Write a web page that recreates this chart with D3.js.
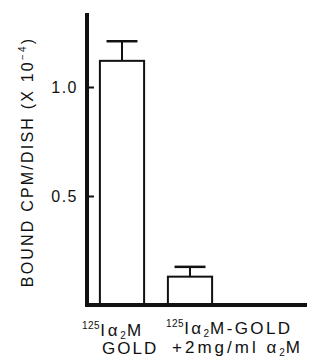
<!DOCTYPE html>
<html>
<head>
<meta charset="utf-8">
<script src="https://cdn.jsdelivr.net/npm/d3@7"></script>
<style>
  body { margin: 0; background: #fff; }
  text { font-family: "Liberation Sans", Arial, sans-serif; fill: #111; }
</style>
</head>
<body>
<div id="chart"></div>
<script>
// bound 125I-a2M gold, cpm per dish (x 10^-4)
const categories = ["gold", "gold+a2M"];
const values = [1.12, 0.13];
const errors = [0.09, 0.045];
const tickValues = [0.5, 1.0];

const width = 321, height = 358;
const x0 = 87, xEnd = 307, y0 = 305;

const svg = d3.select("#chart").append("svg")
  .attr("width", width)
  .attr("height", height);

const x = d3.scaleBand()
  .domain(categories)
  .range([88, 224])
  .paddingInner(0.35)
  .paddingOuter(0.175);

const y = d3.scaleLinear()
  .domain([0, 1.0])
  .range([y0, 87]);

// bars
svg.selectAll("rect.bar")
  .data(categories)
  .enter().append("rect")
  .attr("class", "bar")
  .attr("x", d => x(d))
  .attr("y", (d, i) => y(values[i]))
  .attr("width", x.bandwidth())
  .attr("height", (d, i) => y0 - y(values[i]))
  .attr("fill", "none")
  .attr("stroke", "#111")
  .attr("stroke-width", 2);

// error bars
const err = svg.selectAll("g.err")
  .data(categories)
  .enter().append("g")
  .attr("class", "err");

err.append("line")
  .attr("x1", d => x(d) + x.bandwidth() / 2)
  .attr("x2", d => x(d) + x.bandwidth() / 2)
  .attr("y1", (d, i) => y(values[i]))
  .attr("y2", (d, i) => y(values[i] + errors[i]))
  .attr("stroke", "#111")
  .attr("stroke-width", 2);

err.append("line")
  .attr("x1", d => x(d) + x.bandwidth() * 0.15)
  .attr("x2", d => x(d) + x.bandwidth() * 0.85)
  .attr("y1", (d, i) => y(values[i] + errors[i]))
  .attr("y2", (d, i) => y(values[i] + errors[i]))
  .attr("stroke", "#111")
  .attr("stroke-width", 2.5);

// y axis
const yAxis = d3.axisLeft(y)
  .tickValues(tickValues)
  .tickFormat(d3.format(".1f"))
  .tickSize(-7);

const gy = svg.append("g")
  .attr("transform", `translate(${x0},0)`)
  .call(yAxis);
gy.select(".domain").remove();
gy.selectAll(".tick line").attr("stroke", "#111").attr("stroke-width", 2);
gy.selectAll(".tick text")
  .attr("font-size", 16)
  .attr("letter-spacing", 1.5)
  .attr("x", -9)
  .attr("fill", "#111")
  .style("font-family", "'Liberation Sans', Arial, sans-serif");

svg.append("line")
  .attr("x1", x0).attr("x2", x0)
  .attr("y1", 13).attr("y2", y0 + 2)
  .attr("stroke", "#111")
  .attr("stroke-width", 4);

svg.append("line")
  .attr("x1", x0 - 2).attr("x2", xEnd)
  .attr("y1", y0).attr("y2", y0)
  .attr("stroke", "#111")
  .attr("stroke-width", 4);

// y label
const yl = svg.append("text")
  .attr("transform", "translate(33,162) rotate(-90)")
  .attr("text-anchor", "middle")
  .attr("font-size", 16)
  .attr("letter-spacing", 2.2);
yl.append("tspan").text("BOUND  CPM/DISH  (X 10");
yl.append("tspan").attr("dy", -7).attr("font-size", 10).text("−4");
yl.append("tspan").attr("dy", 7).text(")");

// category labels
function label(xs, ys, parts, spacing) {
  const t = svg.append("text")
    .attr("x", xs)
    .attr("y", ys)
    .attr("font-size", 17)
    .attr("letter-spacing", spacing);
  parts.forEach(p => {
    const s = t.append("tspan").text(p[0]);
    if (p[1] === "sup") s.attr("font-size", 10).attr("dy", -7).attr("letter-spacing", 0.5);
    if (p[1] === "sub") s.attr("font-size", 10).attr("dy", 3).attr("letter-spacing", 1);
    if (p[1] === "back") s.attr("dy", p[2]);
  });
}

label(82, 336, [["125", "sup"], ["Iα", "back", 7], ["2", "sub"], ["M", "back", -3]], 2.8);
label(102, 354, [["GOLD"]], 2);
label(166, 334, [["125", "sup"], ["Iα", "back", 7], ["2", "sub"], ["M-GOLD", "back", -3]], 2.4);
label(172, 353, [["+2mg/ml α", "back", 0], ["2", "sub"], ["M", "back", -3]], 3);
</script>
</body>
</html>
